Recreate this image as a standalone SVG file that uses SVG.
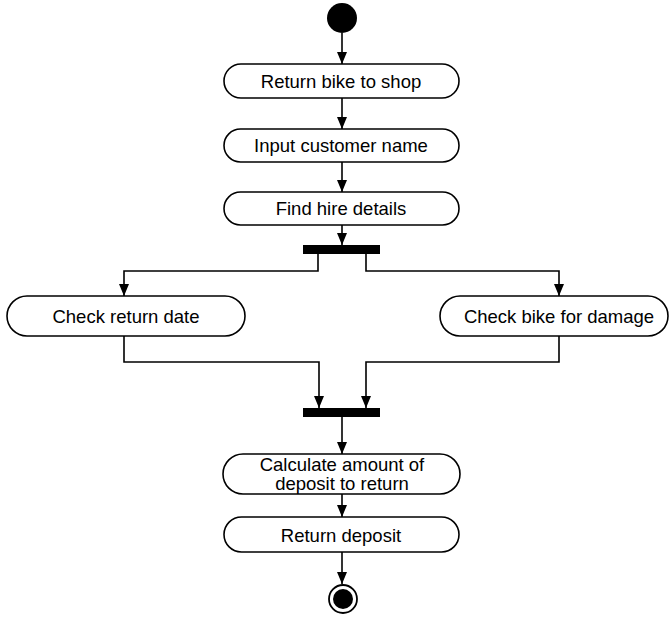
<svg xmlns="http://www.w3.org/2000/svg" width="670" height="617" viewBox="0 0 670 617">
<style>
.act{fill:#fff;stroke:#000;stroke-width:1.6}
.lbl{font-family:"Liberation Sans",Arial,sans-serif;font-size:18.5px;fill:#000;text-anchor:middle;dominant-baseline:central}
.bar{fill:#000}
.con{fill:none;stroke:#000;stroke-width:1.6}
</style>
<defs>
<marker id="ah" viewBox="0 0 12 10" refX="12" refY="5" markerWidth="12" markerHeight="10" markerUnits="userSpaceOnUse" orient="auto">
<path d="M0,0 L12,5 L0,10 z" fill="#000"/>
</marker>
</defs>
<rect width="670" height="617" fill="#fff"/>
<g id="connectors">
<path class="con" d="M342,33 V64" marker-end="url(#ah)"/>
<path class="con" d="M342,98 V129" marker-end="url(#ah)"/>
<path class="con" d="M342,162 V192" marker-end="url(#ah)"/>
<path class="con" d="M342,225 V245" marker-end="url(#ah)"/>
<path class="con" d="M318,254 V271 H124 V296" marker-end="url(#ah)"/>
<path class="con" d="M366,254 V271 H559 V296" marker-end="url(#ah)"/>
<path class="con" d="M124,336 V362 H319 V408" marker-end="url(#ah)"/>
<path class="con" d="M559,336 V362 H366 V408" marker-end="url(#ah)"/>
<path class="con" d="M342,417 V454" marker-end="url(#ah)"/>
<path class="con" d="M342,494 V517" marker-end="url(#ah)"/>
<path class="con" d="M342,552 V584" marker-end="url(#ah)"/>
</g>
<g id="start"><circle cx="342" cy="18" r="15" fill="#000"/></g>
<g id="returnBike"><rect class="act" x="224" y="64" width="235" height="34" rx="17"/><text class="lbl" x="341" y="81">Return bike to shop</text></g>
<g id="inputName"><rect class="act" x="224" y="129" width="235" height="33" rx="16.5"/><text class="lbl" x="341" y="145">Input customer name</text></g>
<g id="findHire"><rect class="act" x="224" y="192" width="235" height="33" rx="16.5"/><text class="lbl" x="341" y="208">Find hire details</text></g>
<g id="fork"><rect class="bar" x="303" y="245" width="77" height="9"/></g>
<g id="checkDate"><rect class="act" x="7" y="296" width="238" height="40" rx="20"/><text class="lbl" x="126" y="316">Check return date</text></g>
<g id="checkDamage"><rect class="act" x="440" y="296" width="228" height="40" rx="20"/><text class="lbl" x="559" y="316">Check bike for damage</text></g>
<g id="join"><rect class="bar" x="303" y="408" width="77" height="9"/></g>
<g id="calc"><rect class="act" x="223" y="454" width="237" height="40" rx="20"/><text class="lbl" x="342" y="464">Calculate amount of</text><text class="lbl" x="342" y="483">deposit to return</text></g>
<g id="returnDeposit"><rect class="act" x="224" y="517" width="235" height="35" rx="17.5"/><text class="lbl" x="341" y="535">Return deposit</text></g>
<g id="end"><circle cx="343" cy="599" r="14" fill="#fff" stroke="#000" stroke-width="1.8"/><circle cx="343" cy="599" r="10" fill="#000"/></g>
</svg>
